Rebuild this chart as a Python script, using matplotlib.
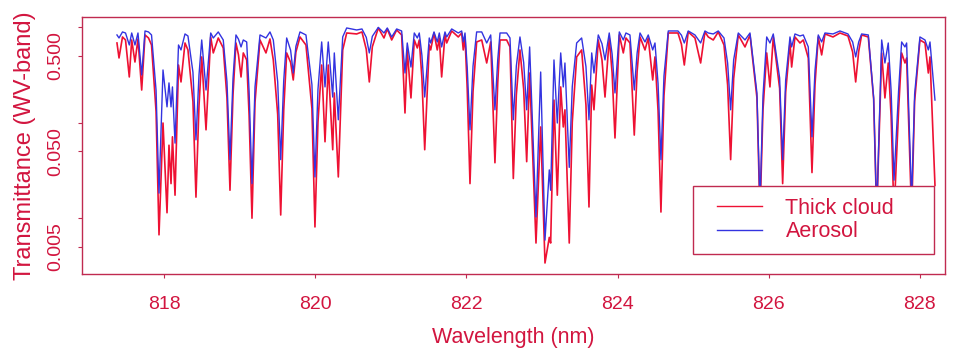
import matplotlib
matplotlib.use("Agg")
import matplotlib.pyplot as plt
from matplotlib.ticker import FixedLocator, FixedFormatter
from matplotlib.lines import Line2D
from matplotlib.legend_handler import HandlerLine2D

plt.rcParams['font.family'] = ['Liberation Sans', 'DejaVu Sans']

# ---- data ----
wavelength = [
    817.378, 817.405, 817.451, 817.491, 817.541, 817.573, 817.616, 817.656, 817.705, 817.749,
    817.795, 817.835, 817.895, 817.934, 817.987, 818.040, 818.066, 818.093, 818.112, 818.146,
    818.192, 818.225, 818.278, 818.317, 818.383, 818.423, 818.463, 818.499, 818.556, 818.618,
    818.652, 818.718, 818.784, 818.833, 818.873, 818.913, 818.952, 818.985, 819.019, 819.049,
    819.094, 819.126, 819.164, 819.204, 819.270, 819.349, 819.402, 819.446, 819.504, 819.544,
    819.584, 819.623, 819.675, 819.710, 819.745, 819.799, 819.878, 819.957, 819.997, 820.037,
    820.086, 820.130, 820.173, 820.232, 820.253, 820.306, 820.364, 820.417, 820.549, 820.619,
    820.676, 820.716, 820.756, 820.835, 820.910, 820.954, 821.012, 821.078, 821.144, 821.188,
    821.218, 821.267, 821.311, 821.351, 821.377, 821.412, 821.449, 821.509, 821.528, 821.572,
    821.615, 821.642, 821.673, 821.717, 821.740, 821.806, 821.893, 821.938, 821.959, 821.982,
    822.011, 822.048, 822.088, 822.136, 822.203, 822.269, 822.322, 822.378, 822.415, 822.445,
    822.533, 822.577, 822.621, 822.661, 822.709, 822.758, 822.798, 822.837, 822.921, 822.983,
    823.040, 823.097, 823.115, 823.159, 823.203, 823.248, 823.282, 823.304, 823.361, 823.401,
    823.459, 823.525, 823.582, 823.622, 823.658, 823.688, 823.745, 823.794, 823.834, 823.890,
    823.928, 823.966, 824.023, 824.076, 824.111, 824.164, 824.221, 824.259, 824.297, 824.363,
    824.406, 824.465, 824.495, 824.536, 824.574, 824.614, 824.671, 824.799, 824.845, 824.883,
    824.935, 825.024, 825.099, 825.156, 825.200, 825.266, 825.332, 825.408, 825.456, 825.496,
    825.536, 825.597, 825.686, 825.752, 825.844, 825.884, 825.924, 825.973, 826.016, 826.060,
    826.144, 826.184, 826.224, 826.281, 826.303, 826.347, 826.413, 826.457, 826.523, 826.572,
    826.612, 826.655, 826.700, 826.744, 826.850, 826.942, 827.048, 827.110, 827.150, 827.190,
    827.229, 827.317, 827.388, 827.428, 827.494, 827.537, 827.581, 827.619, 827.657, 827.718,
    827.758, 827.802, 827.824, 827.890, 827.930, 828.000, 828.067, 828.111, 828.133, 828.199,
]
thick_cloud = [
    0.680, 0.474, 0.786, 0.731, 0.300, 0.731, 0.430, 0.749, 0.219, 0.825,
    0.767, 0.648, 0.131, 0.0067, 0.099, 0.0114, 0.058, 0.023, 0.071, 0.0174,
    0.400, 0.266, 0.680, 0.575, 0.166, 0.0166, 0.149, 0.486, 0.084, 0.786,
    0.535, 0.767, 0.603, 0.182, 0.0196, 0.197, 0.680, 0.511, 0.300, 0.535,
    0.452, 0.119, 0.0100, 0.163, 0.731, 0.535, 0.749, 0.452, 0.122, 0.0108,
    0.136, 0.535, 0.426, 0.279, 0.547, 0.786, 0.648, 0.140, 0.0081, 0.102,
    0.400, 0.063, 0.400, 0.052, 0.204, 0.027, 0.575, 0.865, 0.845, 0.887,
    0.582, 0.266, 0.620, 0.976, 0.767, 0.953, 0.731, 0.930, 0.825, 0.126,
    0.575, 0.181, 0.731, 0.603, 0.731, 0.290, 0.052, 0.648, 0.575, 0.865,
    0.575, 0.767, 0.300, 0.825, 0.680, 0.908, 0.786, 0.865, 0.575, 0.786,
    0.228, 0.023, 0.211, 0.697, 0.731, 0.420, 0.697, 0.038, 0.260, 0.731,
    0.731, 0.618, 0.026, 0.195, 0.575, 0.224, 0.039, 0.330, 0.0055, 0.090,
    0.0034, 0.0063, 0.0055, 0.172, 0.0174, 0.236, 0.090, 0.136, 0.0055, 0.101,
    0.486, 0.575, 0.153, 0.0131, 0.247, 0.136, 0.731, 0.452, 0.185, 0.767,
    0.330, 0.069, 0.825, 0.535, 0.767, 0.680, 0.074, 0.343, 0.786, 0.575,
    0.767, 0.279, 0.486, 0.132, 0.0116, 0.191, 0.865, 0.865, 0.661, 0.400,
    0.887, 0.767, 0.420, 0.887, 0.786, 0.731, 0.887, 0.648, 0.247, 0.041,
    0.289, 0.825, 0.618, 0.825, 0.181, 0.0108, 0.136, 0.535, 0.236, 0.786,
    0.228, 0.023, 0.208, 0.680, 0.381, 0.786, 0.680, 0.731, 0.474, 0.030,
    0.251, 0.786, 0.510, 0.845, 0.786, 0.865, 0.805, 0.547, 0.266, 0.555,
    0.825, 0.786, 0.175, 0.0108, 0.535, 0.181, 0.420, 0.116, 0.0108, 0.136,
    0.535, 0.420, 0.474, 0.0108, 0.167, 0.731, 0.680, 0.330, 0.486, 0.022,
]
aerosol = [
    0.825, 0.767, 0.887, 0.865, 0.648, 0.865, 0.648, 0.865, 0.315, 0.908,
    0.887, 0.825, 0.218, 0.0183, 0.355, 0.146, 0.260, 0.146, 0.236, 0.061,
    0.648, 0.575, 0.845, 0.805, 0.336, 0.066, 0.315, 0.731, 0.219, 0.865,
    0.767, 0.887, 0.731, 0.267, 0.041, 0.289, 0.825, 0.746, 0.618, 0.731,
    0.697, 0.211, 0.023, 0.236, 0.825, 0.767, 0.887, 0.731, 0.267, 0.041,
    0.275, 0.767, 0.571, 0.330, 0.628, 0.887, 0.825, 0.249, 0.027, 0.223,
    0.697, 0.236, 0.697, 0.185, 0.535, 0.107, 0.786, 0.976, 0.930, 0.953,
    0.778, 0.535, 0.798, 0.990, 0.865, 0.976, 0.786, 0.953, 0.908, 0.330,
    0.680, 0.381, 0.865, 0.767, 0.865, 0.504, 0.185, 0.767, 0.680, 0.887,
    0.697, 0.865, 0.618, 0.887, 0.786, 0.953, 0.865, 0.908, 0.697, 0.865,
    0.382, 0.084, 0.389, 0.887, 0.887, 0.680, 0.825, 0.136, 0.453, 0.865,
    0.865, 0.767, 0.107, 0.391, 0.786, 0.425, 0.136, 0.618, 0.0103, 0.338,
    0.0059, 0.032, 0.0196, 0.452, 0.099, 0.535, 0.236, 0.420, 0.034, 0.238,
    0.680, 0.767, 0.385, 0.107, 0.535, 0.330, 0.825, 0.668, 0.452, 0.865,
    0.522, 0.204, 0.887, 0.731, 0.865, 0.825, 0.219, 0.535, 0.865, 0.697,
    0.825, 0.575, 0.680, 0.255, 0.041, 0.307, 0.908, 0.908, 0.821, 0.680,
    0.908, 0.825, 0.680, 0.908, 0.865, 0.845, 0.908, 0.767, 0.419, 0.136,
    0.453, 0.865, 0.731, 0.865, 0.203, 0.0137, 0.191, 0.786, 0.680, 0.845,
    0.293, 0.041, 0.279, 0.786, 0.618, 0.845, 0.805, 0.825, 0.618, 0.071,
    0.350, 0.825, 0.697, 0.865, 0.845, 0.908, 0.845, 0.697, 0.486, 0.697,
    0.845, 0.825, 0.181, 0.0108, 0.731, 0.420, 0.680, 0.214, 0.025, 0.217,
    0.697, 0.618, 0.680, 0.0155, 0.199, 0.786, 0.731, 0.575, 0.697, 0.172,
]
series_labels = ["Thick cloud", "Aerosol"]
x_ticks = [818, 820, 822, 824, 826, 828]
y_ticks = [0.005, 0.01, 0.05, 0.1, 0.5, 1.0]
y_tick_labels = ["0.005", "", "0.050", "", "0.500", ""]

# ---- styling ----
TXT = "#D2153F"
FRAME = "#C02A50"
RED = "#EE1133"
BLUE = "#3333E0"

fig = plt.figure(figsize=(9.61, 3.55), dpi=100)
ax = fig.add_axes([0.0853, 0.2282, 0.898, 0.724])

ax.plot(wavelength, thick_cloud, color=RED, lw=1.2, label=series_labels[0], zorder=2)
ax.plot(wavelength, aerosol, color=BLUE, lw=1.0, label=series_labels[1], zorder=3)

ax.set_yscale('log')
ax.set_xlim(816.915, 828.331)
ax.set_ylim(0.00261, 1.272)

ax.xaxis.set_major_locator(FixedLocator(x_ticks))
ax.set_xticklabels([str(t) for t in x_ticks])
ax.yaxis.set_major_locator(FixedLocator(y_ticks))
ax.yaxis.set_major_formatter(FixedFormatter(y_tick_labels))
ax.yaxis.set_minor_locator(FixedLocator([]))

for s in ax.spines.values():
    s.set_color(FRAME)
    s.set_linewidth(1.0)

ax.tick_params(axis='both', which='major', direction='out', length=3, width=0.8,
               color=FRAME, labelcolor=TXT, labelsize=14)
ax.tick_params(axis='x', pad=13)
ax.tick_params(axis='y', pad=10)
for lab in ax.get_yticklabels():
    lab.set_rotation(90)
    lab.set_va('center')

ax.set_xlabel("Wavelength (nm)", color=TXT, fontsize=15.5, labelpad=10)
ax.set_ylabel("Transmittance (WV-band)", color=TXT, fontsize=17, labelpad=8)

fs = 15.5 * 100 / 72.0
leg = ax.legend(loc='lower left', bbox_to_anchor=(0.708, 0.078, 0.279, 0.257),
                mode='expand', fontsize=15.5, frameon=True, fancybox=False,
                handlelength=57 / fs, handletextpad=1.1, borderpad=0.55,
                labelspacing=0.1, borderaxespad=0,
                handler_map={Line2D: HandlerLine2D(xpad=12 / fs)})
leg.get_frame().set_edgecolor(FRAME)
leg.get_frame().set_linewidth(1.0)
leg.get_frame().set_alpha(1.0)
leg.set_zorder(5)
for t in leg.get_texts():
    t.set_color(TXT)
for h in leg.get_lines():
    h.set_linewidth(1.0)

fig.savefig("out.png", dpi=100, facecolor='white')
